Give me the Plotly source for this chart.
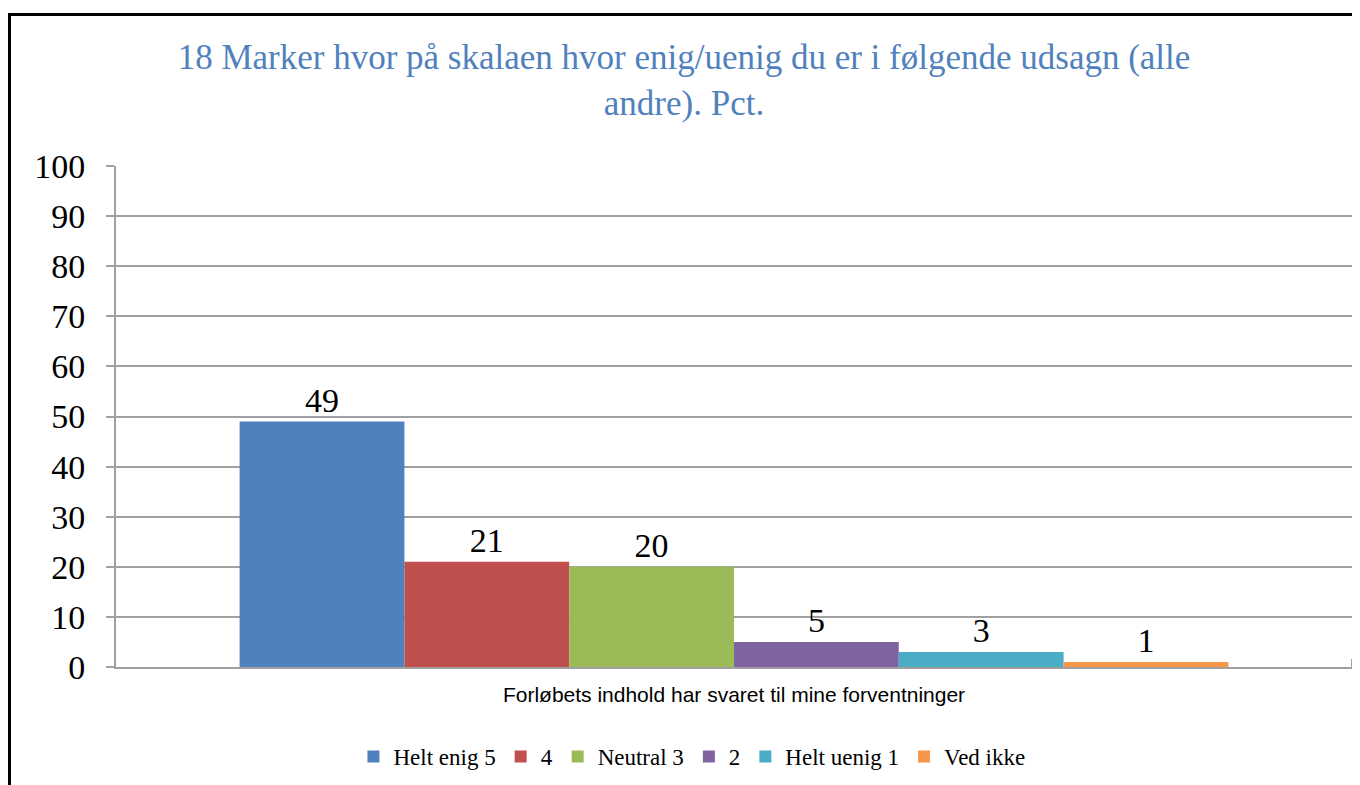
import plotly.graph_objects as go

categories = ["Forløbets indhold har svaret til mine forventninger"]
series_names = ["Helt enig 5", "4", "Neutral 3", "2", "Helt uenig 1", "Ved ikke"]
series_values = [49, 21, 20, 5, 3, 1]
series_colors = ["#4F81BD", "#C0504D", "#9BBB59", "#8064A2", "#4BACC6", "#F79646"]
y_ticks = [0, 10, 20, 30, 40, 50, 60, 70, 80, 90, 100]

title_text = "18 Marker hvor på skalaen hvor enig/uenig du er i følgende udsagn (alle<br>andre). Pct."

# page has an 8px body margin; figure is sized to fit inside the window
W, H = 1352, 777
L, R, T, B = 108, 8, 158, 118
pw, ph = W - L - R, H - T - B
serif = "Liberation Serif"

fig = go.Figure()
for name, val, col in zip(series_names, series_values, series_colors):
    fig.add_trace(go.Bar(
        x=categories, y=[val], name=name,
        marker=dict(color=col, line=dict(width=0)),
        text=[str(val)], textposition="outside",
        textfont=dict(family=serif, size=34, color="black"),
        cliponaxis=False,
    ))


def px_x(p):
    return (p - L) / pw


def px_y(p):
    return (H - B - p) / ph


fig.update_layout(
    width=W, height=H,
    margin=dict(l=L, r=R, t=T, b=B),
    paper_bgcolor="white", plot_bgcolor="white",
    barmode="group", bargap=0.2, bargroupgap=0,
    title=dict(text=title_text, x=(684 - 8) / W, xanchor="center", y=1 - 61 / H, yanchor="top",
               font=dict(family=serif, size=35, color="#4F81BD")),
    showlegend=True,
    legend=dict(orientation="h", x=(638 - 8) / W, xanchor="center", y=0.009, yref="container", yanchor="bottom",
                font=dict(family=serif, size=23, color="black"),
                itemwidth=30, traceorder="normal"),
    xaxis=dict(showline=True, linecolor="#A0A0A0", linewidth=2, showgrid=False,
               ticks="", tickfont=dict(family="Liberation Sans", size=21, color="black"),
               ticklabelstandoff=8),
    yaxis=dict(range=[0, 100], tickvals=y_ticks, showline=True, linecolor="#A0A0A0", linewidth=2,
               showgrid=True, gridcolor="#A0A0A0", gridwidth=2,
               ticks="outside", ticklen=8, tickcolor="#A0A0A0", tickwidth=2,
               tickfont=dict(family=serif, size=34, color="black"),
               ticklabelstandoff=14, zeroline=False),
    shapes=[
        dict(type="path", xref="paper", yref="paper",
             path=f"M {px_x(1.5)} {px_y(900)} L {px_x(1.5)} {px_y(6.5)} L {px_x(1500)} {px_y(6.5)}",
             line=dict(color="black", width=3)),
        dict(type="line", xref="paper", yref="paper",
             x0=1, x1=1, y0=0, y1=px_y(H - B - 8), line=dict(color="#A0A0A0", width=2)),
    ],
)

fig.write_html("out.html")
